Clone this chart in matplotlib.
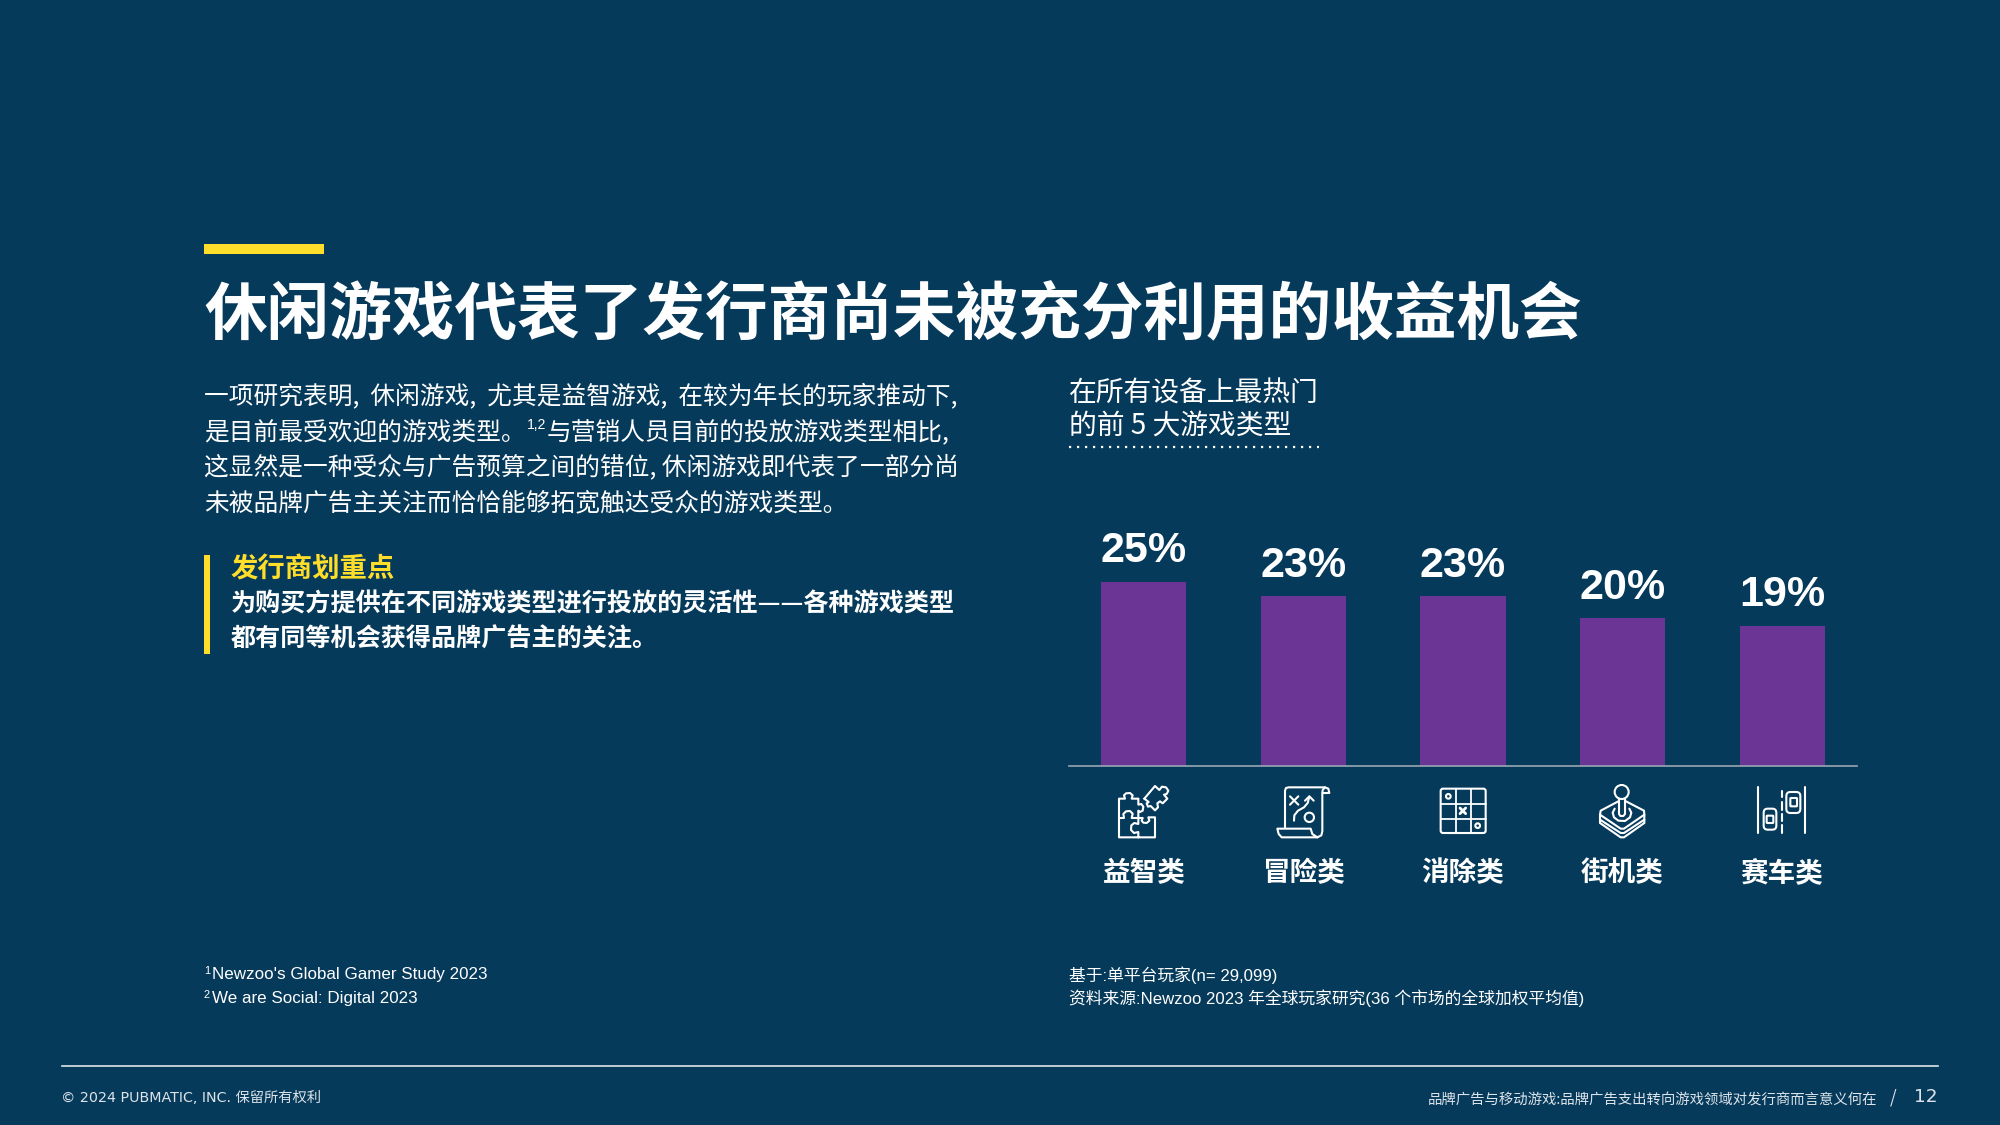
import matplotlib
matplotlib.use("Agg")
import matplotlib.pyplot as plt
from matplotlib.patches import Rectangle, Circle, FancyBboxPatch

# colours
BG = "#063A5B"
PURPLE = "#6A3594"
YELLOW = "#FFDD2B"
WHITE = "#FFFFFF"
SOFT = "#DDE4E9"

# chart data
categories = ["益智类", "冒险类", "消除类", "街机类", "赛车类"]
shares = [25, 23, 23, 20, 19]

title = "休闲游戏代表了发行商尚未被充分利用的收益机会"
body_lines = [
    "一项研究表明,  休闲游戏,  尤其是益智游戏,  在较为年长的玩家推动下,",
    "这显然是一种受众与广告预算之间的错位, 休闲游戏即代表了一部分尚",
    "未被品牌广告主关注而恰恰能够拓宽触达受众的游戏类型。",
]
body_line2 = ["是目前最受欢迎的游戏类型。", "与营销人员目前的投放游戏类型相比,"]
callout_head = "发行商划重点"
callout_lines = [
    "为购买方提供在不同游戏类型进行投放的灵活性——各种游戏类型",
    "都有同等机会获得品牌广告主的关注。",
]
chart_title = ["在所有设备上最热门", "的前 5 大游戏类型"]
notes_left = ["Newzoo's Global Gamer Study 2023", "We are Social: Digital 2023"]
notes_right = ["基于:单平台玩家(n= 29,099)", "资料来源:Newzoo 2023 年全球玩家研究(36 个市场的全球加权平均值)"]
footer_left = "© 2024 PUBMATIC, INC. 保留所有权利"
footer_right = "品牌广告与移动游戏:品牌广告支出转向游戏领域对发行商而言意义何在"
page_no = "12"

CJK = ["Noto Sans CJK SC", "DejaVu Sans"]
LATIN = ["Liberation Sans", "Noto Sans CJK SC", "DejaVu Sans"]
WIDE = ["DejaVu Sans", "Noto Sans CJK SC"]
plt.rcParams["font.family"] = CJK

W, H = 2000, 1125
fig = plt.figure(figsize=(20, 11.25), dpi=100, facecolor=BG)

# overlay in pixel coordinates for the page furniture
page = fig.add_axes([0, 0, 1, 1])
page.set_xlim(0, W)
page.set_ylim(H, 0)
page.axis("off")


def px(size):
    return size * 0.72


page.add_patch(Rectangle((204, 244), 120, 10, color=YELLOW, lw=0))
page.text(204, 316, title, color=WHITE, fontsize=px(62.6), weight="bold", va="center")

page.text(204, 396, body_lines[0], color=WHITE, fontsize=px(24.7), va="center")
page.text(204, 432, body_line2[0], color=WHITE, fontsize=px(24.7), va="center")
page.text(527, 425, "1,2", color=WHITE, fontsize=px(14), va="center", family=LATIN)
page.text(547, 432, body_line2[1], color=WHITE, fontsize=px(24.7), va="center")
page.text(204, 467, body_lines[1], color=WHITE, fontsize=px(24.7), va="center")
page.text(204, 503, body_lines[2], color=WHITE, fontsize=px(24.7), va="center")

page.add_patch(Rectangle((204, 555), 6, 99, color=YELLOW, lw=0))
page.text(230, 570, callout_head, color=YELLOW, fontsize=px(27.4), weight="bold", va="center")
page.text(231, 604, callout_lines[0], color=WHITE, fontsize=px(25.1), weight="bold", va="center")
page.text(231, 639, callout_lines[1], color=WHITE, fontsize=px(25.1), weight="bold", va="center")

page.text(1069, 394, chart_title[0], color=WHITE, fontsize=px(27.8), va="center")
page.text(1069, 426, chart_title[1], color=WHITE, fontsize=px(27.8), va="center")
page.plot([1069, 1319], [446.5, 446.5], color=WHITE, lw=1.6, ls=(0, (1, 2.6)))

# footnotes
page.text(204, 971, "1", color=WHITE, fontsize=px(11), va="center", family=LATIN)
page.text(212, 975, notes_left[0], color=WHITE, fontsize=px(17), va="center", family=LATIN)
page.text(204, 995, "2", color=WHITE, fontsize=px(11), va="center", family=LATIN)
page.text(212, 999, notes_left[1], color=WHITE, fontsize=px(17), va="center", family=LATIN)
page.text(1069, 975, notes_right[0], color=WHITE, fontsize=px(16.8), va="center", family=LATIN)
page.text(1069, 998, notes_right[1], color=WHITE, fontsize=px(16.8), va="center", family=LATIN)

# footer
page.plot([62, 1938], [1066, 1066], color=SOFT, lw=1.2)
page.text(61, 1098, footer_left, color=SOFT, fontsize=px(14.3), va="center", family=WIDE)
page.text(1877, 1100, footer_right, color=SOFT, fontsize=px(14.4), va="center", ha="right")
page.text(1893, 1098, "/", color=SOFT, fontsize=px(17), va="center", ha="center")
page.text(1938, 1097, page_no, color=SOFT, fontsize=px(18.5), va="center", ha="right", family=WIDE)

# bars on their own axes, baseline at y = 765.5 and 7.36 px per percent
ax_h = 30 * 7.36
ax = fig.add_axes([1069 / W, (H - 765.5) / H, (1857 - 1069) / W, ax_h / H])
ax.patch.set_alpha(0)
x = list(range(len(categories)))
ax.bar(x, shares, width=0.533, color=PURPLE)
ax.set_xlim(-0.47, 4.47)
ax.set_ylim(0, 30)
for s in ["top", "left", "right"]:
    ax.spines[s].set_visible(False)
ax.spines["bottom"].set_color("#9AA7B2")
ax.spines["bottom"].set_linewidth(1.2)
ax.set_yticks([])
ax.set_xticks([])
for i, v in enumerate(shares):
    ax.annotate(f"{v}%", (i, v), xytext=(0, 14), textcoords="offset points", ha="center", va="baseline",
                color=WHITE, fontsize=31, weight="bold", family=LATIN)

for i, name in enumerate(categories):
    page.text(1144 + i * 159.5, 873, name, color=WHITE, fontsize=px(27.6), weight="bold",
              va="center", ha="center")


# icons, drawn by hand from crops: points are crop pixels at 3x from each origin
def line(ox, oy, pts, lw=1.5):
    xs = [ox + p[0] / 3 for p in pts]
    ys = [oy + p[1] / 3 for p in pts]
    page.plot(xs, ys, color=WHITE, lw=lw, solid_capstyle="round", solid_joinstyle="round")


def ring(ox, oy, cx, cy, r, lw=1.5):
    page.add_patch(Circle((ox + cx / 3, oy + cy / 3), r / 3, fill=False, ec=WHITE, lw=lw))


def box(ox, oy, x0, y0, x1, y1, rad=6, lw=1.5):
    page.add_patch(FancyBboxPatch((ox + x0 / 3, oy + y0 / 3), (x1 - x0) / 3, (y1 - y0) / 3,
                                  boxstyle=f"round,pad=0,rounding_size={rad / 3}",
                                  fill=False, ec=WHITE, lw=lw))


# puzzle
o = (1110, 778)
line(*o, [(27, 120), (27, 62), (45, 62), (42, 52), (48, 46), (60, 45), (68, 52), (65, 62), (85, 62), (85, 80),
          (94, 78), (100, 86), (98, 98), (90, 102), (85, 98), (85, 120)])
line(*o, [(27, 120), (42, 120), (40, 108), (48, 100), (60, 99), (68, 107), (65, 120), (85, 120)])
line(*o, [(27, 120), (27, 178), (135, 178), (135, 118), (115, 118), (118, 128), (110, 135), (100, 134),
          (95, 128), (98, 120), (85, 120), (85, 138), (73, 135), (64, 142), (63, 156), (72, 165), (85, 162), (85, 178)])
line(*o, [(103, 62), (135, 24), (148, 36), (156, 26), (168, 28), (175, 38), (170, 48), (162, 50), (172, 62),
          (158, 76), (150, 70), (142, 76), (144, 88), (135, 97), (122, 84), (114, 86), (110, 76), (116, 72), (103, 62)])

# scroll map
o = (1270, 778)
line(*o, [(45, 148), (45, 38), (48, 30), (56, 28), (165, 28), (175, 32), (178, 45), (158, 45)])
line(*o, [(165, 28), (158, 36), (157, 45), (157, 160), (154, 172), (142, 178), (35, 178), (26, 168), (22, 152),
          (122, 152), (127, 168), (142, 178)])
line(*o, [(60, 55), (85, 80)])
line(*o, [(60, 80), (85, 55)])
line(*o, [(72, 128), (73, 112), (84, 98), (102, 88), (113, 75), (118, 56)])
line(*o, [(105, 68), (118, 55), (131, 68)])
ring(*o, 118, 118, 14)

# match grid
o = (1430, 778)
box(*o, 32, 32, 167, 165, rad=7)
line(*o, [(78, 32), (78, 165)], lw=1.3)
line(*o, [(122, 32), (122, 165)], lw=1.3)
line(*o, [(32, 77), (167, 77)], lw=1.3)
line(*o, [(32, 122), (167, 122)], lw=1.3)
ring(*o, 55, 55, 7)
ring(*o, 143, 143, 7)
line(*o, [(90, 90), (107, 107)], lw=2)
line(*o, [(90, 107), (107, 90)], lw=2)

# joystick
o = (1590, 778)
ring(*o, 95, 42, 21)
line(*o, [(87, 63), (87, 108), (91, 114), (100, 114), (105, 108), (105, 63)])
line(*o, [(74, 92), (68, 104), (72, 118), (85, 128), (105, 129), (120, 118), (124, 104), (118, 92)])
line(*o, [(85, 70), (32, 98), (30, 110), (92, 152), (102, 152), (163, 110), (162, 98), (108, 70)])
line(*o, [(30, 110), (30, 125), (92, 165), (102, 165), (163, 125), (163, 110)])
line(*o, [(30, 125), (30, 135), (92, 178), (102, 178), (163, 135), (163, 125)])

# race cars
o = (1748, 778)
line(*o, [(30, 28), (30, 165)])
line(*o, [(172, 28), (172, 165)])
for y0, y1 in [(38, 58), (72, 95), (108, 128), (142, 165)]:
    line(*o, [(102, y0), (102, y1)])
box(*o, 47, 92, 85, 155, rad=12)
box(*o, 56, 113, 76, 135, rad=2)
box(*o, 115, 42, 157, 105, rad=12)
box(*o, 127, 60, 147, 85, rad=2)

fig.savefig("out.png", dpi=100, facecolor=BG)
